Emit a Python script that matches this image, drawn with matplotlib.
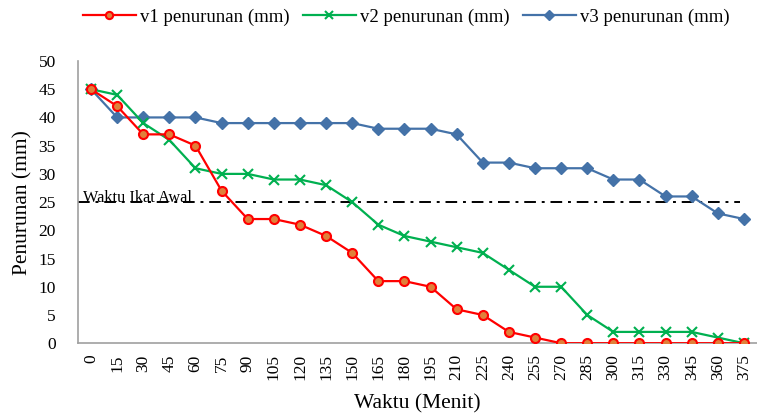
import numpy as np
import matplotlib.pyplot as plt

plt.rcParams['font.family'] = ['Liberation Serif', 'DejaVu Serif']

waktu = [0, 15, 30, 45, 60, 75, 90, 105, 120, 135, 150, 165, 180,
         195, 210, 225, 240, 255, 270, 285, 300, 315, 330, 345, 360, 375]

v1 = [45, 42, 37, 37, 35, 27, 22, 22, 21, 19, 16, 11, 11,
      10, 6, 5, 2, 1, 0, 0, 0, 0, 0, 0, 0, 0]
v2 = [45, 44, 39, 36, 31, 30, 30, 29, 29, 28, 25, 21, 19,
      18, 17, 16, 13, 10, 10, 5, 2, 2, 2, 2, 1, 0]
v3 = [45, 40, 40, 40, 40, 39, 39, 39, 39, 39, 39, 38, 38,
      38, 37, 32, 32, 31, 31, 31, 29, 29, 26, 26, 23, 22]

ikat_awal = 25

fig = plt.figure(figsize=(7.57, 4.15), dpi=100)
ax = fig.add_axes([0.103, 0.173, 0.897, 0.68])

x = np.arange(len(waktu))

ax.plot(x, v1, color='#FF0000', lw=1.6, marker='o', ms=6.5,
        mfc='#E0803A', mec='#FF0000', mew=1.5, label='v1 penurunan (mm)', zorder=4)
ax.plot(x, v2, color='#00B050', lw=1.6, marker='x', ms=6.5,
        mew=1.5, label='v2 penurunan (mm)', zorder=3)
ax.plot(x, v3, color='#4472A8', lw=1.6, marker='D', ms=6,
        mfc='#4472A8', mec='#4472A8', label='v3 penurunan (mm)', zorder=2)

# garis batas waktu ikat awal
ax.plot([-0.5, 24.85], [ikat_awal, ikat_awal], color='black', lw=1.4,
        ls=(0, (6, 3, 1.5, 3)), zorder=1)
ax.text(-0.3, ikat_awal + 0.05, 'Waktu Ikat Awal', fontsize=11.7,
        ha='left', va='baseline')

ax.set_xlim(-0.5, len(waktu) - 0.5)
ax.set_ylim(0, 50)
ax.set_yticks(np.arange(0, 51, 5))
ax.set_xticks(x)
ax.set_xticklabels([str(w) for w in waktu], rotation=90, fontsize=12.5)
ax.tick_params(axis='y', labelsize=12.5, length=0, pad=16)
ax.tick_params(axis='x', length=0, pad=8)

for side in ['top', 'right']:
    ax.spines[side].set_visible(False)
for side in ['left', 'bottom']:
    ax.spines[side].set_color('#A0A0A0')
    ax.spines[side].set_linewidth(1.2)

ax.set_xlabel('Waktu (Menit)', fontsize=15.5, labelpad=10)
ax.set_ylabel('Penurunan (mm)', fontsize=15.5, labelpad=4)

fig.legend(loc='upper center', bbox_to_anchor=(0.537, 1.02), ncol=3,
           frameon=False, fontsize=13.5, handlelength=2.8, columnspacing=0.7,
           handletextpad=0.25, markerscale=0.8)

fig.savefig('out.png', dpi=100)
